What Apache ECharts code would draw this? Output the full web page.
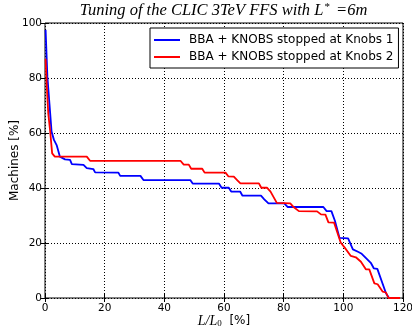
<!DOCTYPE html>
<html>
<head>
<meta charset="utf-8">
<script src="https://cdn.jsdelivr.net/npm/echarts@6/dist/echarts.min.js"></script>
<style>html,body{margin:0;padding:0;background:#fff}#c{width:412px;height:327px}</style>
</head>
<body>
<div id="c"></div>
<script>
const seriesNames = ['BBA + KNOBS stopped at Knobs 1', 'BBA + KNOBS stopped at Knobs 2'];
const xTicks = [0, 20, 40, 60, 80, 100, 120];
const yTicks = [0, 20, 40, 60, 80, 100];

const blueX = [0.2, 0.8, 1.5, 2.2, 3.0, 3.9, 5.0, 6.7, 8.4, 9.0, 12.9, 14.0, 16.2, 16.8, 24.6, 25.2, 32.0, 33.0, 48.7, 49.5, 58.3, 59.2, 61.6, 62.4, 65.4, 66.2, 72.4, 73.5, 74.9, 80.2, 81.3, 93.3, 94.4, 96.0, 97.2, 98.7, 101.6, 103.2, 104.9, 106.0, 109.2, 110.2, 111.4, 114.3, 115.3, 119.0];
const blueY = [97.5, 80.5, 70.5, 60.5, 57.5, 55.6, 51.4, 50.4, 50.2, 48.7, 48.4, 47.2, 46.9, 45.7, 45.6, 44.4, 44.4, 42.9, 42.9, 41.6, 41.6, 40.1, 40.1, 38.7, 38.7, 37.2, 37.2, 35.9, 34.4, 34.4, 33.1, 33.1, 31.6, 31.6, 28.0, 21.9, 21.7, 17.7, 16.8, 16.2, 12.8, 10.8, 10.6, 1.7, 0, 0];

const redX = [0.2, 0.6, 1.1, 1.7, 2.4, 3.3, 14.0, 15.1, 45.4, 46.5, 48.2, 49.0, 52.7, 53.5, 60.5, 61.5, 63.3, 64.4, 65.5, 71.7, 72.5, 74.4, 75.6, 77.7, 82.2, 83.2, 85.1, 91.2, 92.5, 94.0, 95.0, 96.9, 99.1, 100.4, 102.5, 104.2, 105.9, 107.6, 108.7, 110.4, 111.5, 113.2, 114.3, 115.1, 119.0];
const redY = [87.0, 77.0, 67.0, 61.0, 52.6, 51.4, 51.4, 49.9, 49.9, 48.5, 48.5, 47.0, 47.0, 45.6, 45.6, 44.2, 44.1, 42.9, 41.7, 41.7, 40.1, 40.1, 38.7, 34.6, 34.4, 33.2, 31.6, 31.5, 30.4, 30.3, 27.5, 27.4, 20.2, 18.4, 15.3, 14.8, 13.2, 10.4, 10.4, 5.3, 5.0, 2.3, 2.0, 0, 0];

const pairs = (xs, ys) => xs.map((x, i) => [x, ys[i]]);
const FONT = 'DejaVu Sans';

const chart = echarts.init(document.getElementById('c'), null, {renderer: 'canvas'});
const tickCommon = {inside: true, length: 4, lineStyle: {color: '#000', width: 1}};
const split = {show: true, lineStyle: {color: '#000', width: 1, type: [1, 2]}};
chart.setOption({
  animation: false,
  backgroundColor: '#fff',
  graphic: [{
    type: 'text', x: 223.5, y: 2, z: 10,
    style: {
      text: '{i|Tuning of the CLIC 3TeV FFS with L}{s|*}{i| =6m}',
      align: 'center',
      rich: {
        i: {fontFamily: 'Liberation Serif', fontStyle: 'italic', fontSize: 16.5, fill: '#000'},
        s: {fontFamily: 'Liberation Serif', fontSize: 11, fill: '#000', verticalAlign: 'top', padding: [0, 2, 6, 1]}
      }
    }
  }],
  grid: {left: 45, right: 9, top: 23, bottom: 29, show: true, borderColor: '#000', borderWidth: 1, backgroundColor: 'transparent', outerBoundsMode: 'none', containLabel: false},
  legend: {
    data: seriesNames.map(n => ({name: n, icon: 'rect'})),
    left: 150, top: 28,
    orient: 'vertical',
    padding: [5, 5, 4, 4],
    itemGap: 3,
    itemWidth: 26, itemHeight: 2,
    backgroundColor: '#fff',
    borderColor: '#000', borderWidth: 1, borderRadius: 0,
    textStyle: {fontFamily: FONT, fontSize: 12, color: '#000', padding: [0, 0, 0, 4], lineHeight: 14}
  },
  xAxis: [{
    type: 'value', min: 0, max: 120, interval: 20,
    axisLine: {show: false},
    axisTick: tickCommon,
    axisLabel: {fontFamily: FONT, fontSize: 10.5, color: '#000', margin: 5, formatter: v => xTicks.includes(v) ? String(v) : ''},
    splitLine: split,
    name: '{i|L/L}{sub|0}{n|  [%]}',
    nameLocation: 'middle', nameGap: 16, nameMoveOverlap: false,
    nameTextStyle: {rich: {
      i: {fontFamily: 'Liberation Serif', fontStyle: 'italic', fontSize: 14, color: '#000'},
      sub: {fontFamily: 'Liberation Serif', fontSize: 9, color: '#000', verticalAlign: 'bottom', padding: [5, 0, 0, 0]},
      n: {fontFamily: FONT, fontSize: 12, color: '#000'}
    }}
  }, {
    type: 'value', min: 0, max: 120, interval: 20, position: 'top',
    axisLine: {show: false}, axisTick: tickCommon, axisLabel: {show: false}, splitLine: {show: false}
  }],
  yAxis: [{
    type: 'value', min: 0, max: 100, interval: 20,
    axisLine: {show: false},
    axisTick: tickCommon,
    axisLabel: {fontFamily: FONT, fontSize: 10.5, color: '#000', margin: 3, formatter: v => yTicks.includes(v) ? String(v) : ''},
    splitLine: split,
    name: 'Machines [%]',
    nameLocation: 'middle', nameGap: 24, nameMoveOverlap: false,
    nameTextStyle: {fontFamily: FONT, fontSize: 12, color: '#000'}
  }, {
    type: 'value', min: 0, max: 100, interval: 20, position: 'right',
    axisLine: {show: false}, axisTick: tickCommon, axisLabel: {show: false}, splitLine: {show: false}
  }],
  series: [{
    name: seriesNames[0], type: 'line', data: pairs(blueX, blueY),
    symbol: 'none', lineStyle: {color: '#0000ff', width: 1.8}, itemStyle: {color: '#0000ff'}, z: 3
  }, {
    name: seriesNames[1], type: 'line', data: pairs(redX, redY),
    symbol: 'none', lineStyle: {color: '#ff0000', width: 1.8}, itemStyle: {color: '#ff0000'}, z: 4
  }]
});
</script>
</body>
</html>
